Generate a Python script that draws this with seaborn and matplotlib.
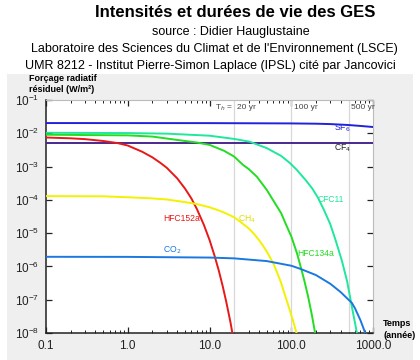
import numpy as np
import pandas as pd
import matplotlib
matplotlib.use("Agg")
import matplotlib.pyplot as plt
import matplotlib.ticker as mticker
from matplotlib.patches import Rectangle
import seaborn as sns

# values (time in years, residual forcing in W/m2)
t_sf6 = [0.1, 10, 100, 200, 300, 500, 700, 1000]
f_sf6 = [0.0204, 0.0203, 0.0199, 0.0195, 0.0190, 0.0178, 0.0167, 0.0155]

t_cf4 = [0.1, 1000]
f_cf4 = [0.0051, 0.0051]

t_cfc11 = [0.1, 1, 3, 10, 20, 31, 50, 75, 96, 117, 150, 180, 212, 250, 298,
           350, 414, 480, 550, 617, 680]
f_cfc11 = [0.0104, 0.0102, 0.0098, 0.0085, 0.0068, 0.0056, 0.0036, 0.0021,
           0.00128, 7.9e-4, 3.9e-4, 2.2e-4, 1.15e-4, 5.0e-5, 1.9e-5,
           5.8e-6, 1.5e-6, 3.6e-7, 6e-8, 1.4e-8, 3.5e-9]

t_hfc134a = [0.1, 1, 2, 4.3, 7, 10, 15, 20, 25.7, 30, 37.8, 50, 62, 75, 87,
             100, 117, 132, 145, 160, 178, 195, 210]
f_hfc134a = [0.0091, 0.0087, 0.0080, 0.0062, 0.0053, 0.0045, 0.0030, 0.0020,
             0.00112, 8.5e-4, 5.0e-4, 2.0e-4, 8.5e-5, 4.0e-5, 1.7e-5,
             7.9e-6, 2.5e-6, 8.5e-7, 3.5e-7, 1.26e-7, 3.5e-8, 1.0e-8, 3.5e-9]

t_hfc152a = [0.1, 0.2, 0.3, 0.5, 0.75, 1, 1.5, 2, 2.5, 3, 4, 5, 6, 7, 8.5, 10,
             11.5, 13, 14.5, 16, 18, 20]
f_hfc152a = [0.0075, 0.0071, 0.0067, 0.0059, 0.0051, 0.0043, 0.0028, 0.0019,
             0.0013, 9.2e-4, 4.5e-4, 2.2e-4, 1.1e-4, 5.3e-5, 1.8e-5, 6.2e-6,
             2.1e-6, 7.3e-7, 2.5e-7, 8.6e-8, 2.1e-8, 4.9e-9]

t_ch4 = [0.1, 0.5, 1, 2, 3, 5, 7, 10, 13, 16, 20, 25, 30, 35, 40, 45, 50, 55,
         60, 67, 75, 80, 90, 100, 108, 117, 130]
f_ch4 = [1.3e-4, 1.28e-4, 1.2e-4, 1.11e-4, 1.03e-4, 8.6e-5, 7.5e-5, 6.0e-5,
         4.8e-5, 3.9e-5, 3.0e-5, 2.0e-5, 1.4e-5, 9.5e-6, 6.3e-6, 4.2e-6,
         2.8e-6, 1.85e-6, 1.25e-6, 6.5e-7, 3.2e-7, 1.9e-7, 7.8e-8, 3.4e-8,
         1.8e-8, 9e-9, 3e-9]

t_co2 = [0.1, 1, 10, 20, 50, 100, 130, 200, 300, 400, 500, 550, 600, 700, 800, 850]
f_co2 = [1.95e-6, 1.94e-6, 1.85e-6, 1.75e-6, 1.45e-6, 1.05e-6, 8.4e-7, 5.5e-7,
         3.0e-7, 1.7e-7, 1.0e-7, 8e-8, 5.5e-8, 2.4e-8, 1e-8, 6e-9]

gases = ["SF6", "CF4", "CFC11", "HFC134a", "HFC152a", "CH4", "CO2"]
colors = ["#2222dd", "#4a2890", "#1ee89c", "#22dd22", "#e81818", "#f2f200", "#1a78e0"]
horizons = [20, 100, 500]

frames = []
for g, t, f in zip(gases,
                   [t_sf6, t_cf4, t_cfc11, t_hfc134a, t_hfc152a, t_ch4, t_co2],
                   [f_sf6, f_cf4, f_cfc11, f_hfc134a, f_hfc152a, f_ch4, f_co2]):
    frames.append(pd.DataFrame({"gas": g, "temps": t, "forcage": f}))
df = pd.concat(frames, ignore_index=True)

sns.set_style("ticks")
plt.rcParams["font.family"] = ["Liberation Sans", "DejaVu Sans"]
plt.rcParams["text.color"] = "black"
plt.rcParams["xtick.color"] = "#222222"
plt.rcParams["ytick.color"] = "#222222"

fig = plt.figure(figsize=(4.2, 3.6), dpi=100)
fig.add_artist(Rectangle((0.017, 0), 0.966, 0.795, transform=fig.transFigure,
                         facecolor="#efefef", edgecolor="none", zorder=-5))
ax = fig.add_axes([0.1095, 0.075, 0.779, 0.647])
ax.set_facecolor("white")

for x in horizons:
    ax.axvline(x, color="#d8d8d8", lw=0.9, zorder=1)

sns.lineplot(data=df, x="temps", y="forcage", hue="gas", hue_order=gases,
             palette=colors, lw=1.4, legend=False, ax=ax, zorder=3)

ax.set_xscale("log")
ax.set_yscale("log")
ax.set_xlim(0.1, 1000)
ax.set_ylim(1e-8, 1e-1)
ax.set_xticks([0.1, 1, 10, 100, 1000], ["0.1", "1.0", "10.0", "100.0", "1000.0"])
ax.set_yticks([1e-8, 1e-7, 1e-6, 1e-5, 1e-4, 1e-3, 1e-2, 1e-1])
ax.yaxis.set_minor_locator(mticker.NullLocator())
ax.tick_params(axis="both", which="major", labelsize=8.5, direction="in",
               top=True, right=True, length=4, width=0.9, pad=5)
ax.tick_params(axis="x", which="minor", direction="in", top=True, length=2, width=0.7)
ax.set_xlabel("")
ax.set_ylabel("")
for s in ["left", "bottom"]:
    ax.spines[s].set_color("#222222")
    ax.spines[s].set_linewidth(1.1)
for s in ["top", "right"]:
    ax.spines[s].set_color("#bbbbbb")
    ax.spines[s].set_linewidth(0.8)

# curve labels
ax.text(330, 0.0125, "SF$_6$", color="#2222dd", fontsize=6.2)
ax.text(330, 0.0030, "CF$_4$", color="#222222", fontsize=6.2)
ax.text(212, 8.5e-5, "CFC11", color="#1ee89c", fontsize=6.2)
ax.text(118, 2.0e-6, "HFC134a", color="#22dd22", fontsize=6.2)
ax.text(22, 2.3e-5, "CH$_4$", color="#dddd00", fontsize=6.2)
ax.text(2.7, 2.4e-5, "HFC152a", color="#e81818", fontsize=6.2)
ax.text(2.7, 2.7e-6, "CO$_2$", color="#1a78e0", fontsize=6.2)

ax.text(11.5, 0.053, "T$_h$ =", color="#444444", fontsize=6)
for x, lab in zip(horizons, ["20 yr", "100 yr", "500 yr"]):
    ax.text(x * 1.07, 0.053, lab, color="#444444", fontsize=6)

fig.text(0.07, 0.775, "Forçage radiatif", fontsize=6.5, fontweight="bold")
fig.text(0.07, 0.745, "résiduel (W/m²)", fontsize=6.5, fontweight="bold")
fig.text(0.912, 0.095, "Temps", fontsize=6.5, fontweight="bold")
fig.text(0.912, 0.06, "(année)", fontsize=6.5, fontweight="bold")

fig.text(0.56, 0.965, "Intensités et durées de vie des GES", fontsize=12,
         fontweight="bold", ha="center", va="center")
fig.text(0.55, 0.91, "source : Didier Hauglustaine", fontsize=9, ha="center", va="center")
fig.text(0.51, 0.863, "Laboratoire des Sciences du Climat et de l'Environnement (LSCE)",
         fontsize=9, ha="center", va="center")
fig.text(0.5, 0.816, "UMR 8212 - Institut Pierre-Simon Laplace (IPSL) cité par Jancovici",
         fontsize=9, ha="center", va="center")

fig.savefig("out.png", dpi=100)
